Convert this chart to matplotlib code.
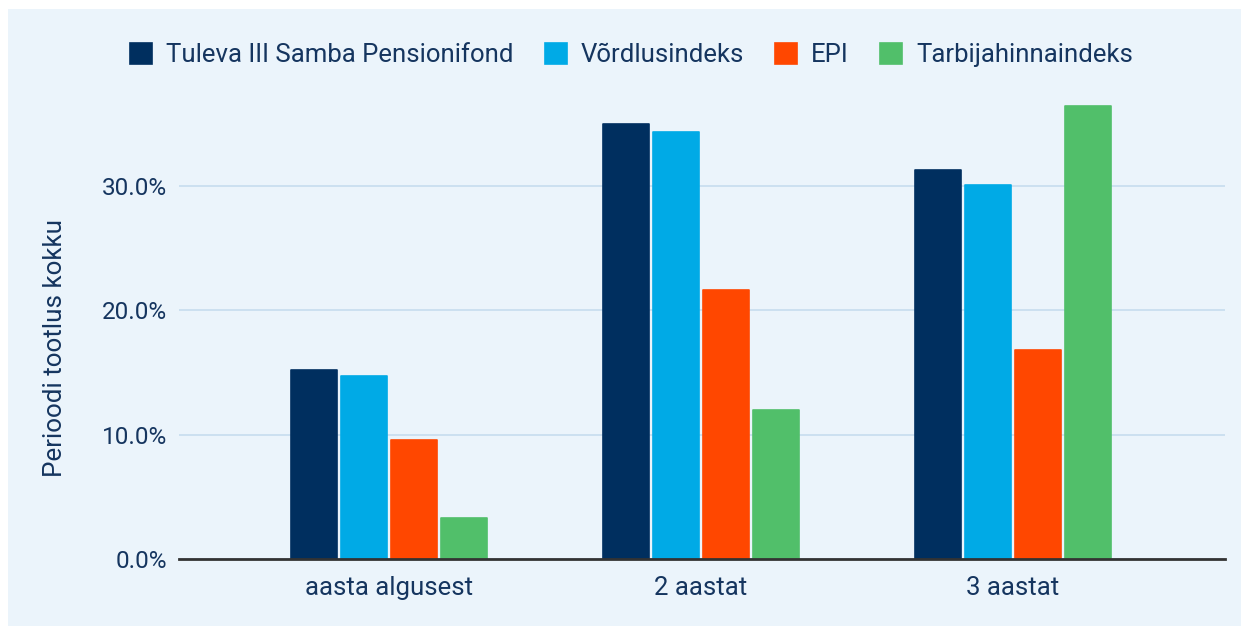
import numpy as np
from matplotlib import pyplot as plt
from matplotlib.patches import Rectangle
from matplotlib.ticker import FuncFormatter

plt.rcParams["font.family"] = ["Roboto", "DejaVu Sans"]

categories = ["aasta algusest", "2 aastat", "3 aastat"]
series_names = ["Tuleva III Samba Pensionifond", "Võrdlusindeks", "EPI", "Tarbijahinnaindeks"]
tuleva = [15.2, 35.0, 31.3]
vordlus = [14.7, 34.3, 30.1]
epi = [9.6, 21.6, 16.8]
thi = [3.3, 12.0, 36.4]
colors = ["#002F5F", "#00AAE6", "#FF4700", "#51BF6A"]

text_color = "#15355F"
bg = "#EBF4FB"

fig = plt.figure(figsize=(12.41, 6.26), dpi=100)
fig.patch.set_facecolor("white")
fig.patches.append(Rectangle((8 / 1241, 0), 1, 1 - 9 / 626, transform=fig.transFigure,
                             facecolor=bg, edgecolor="none", zorder=-10))

ax = fig.add_axes([179 / 1241, 1 - 559 / 626, (1225 - 179) / 1241, (559 - 95) / 626])
ax.set_facecolor(bg)

x = np.arange(len(categories))
width = 46 / 312
step = 50 / 312
for i, (vals, c, name) in enumerate(zip([tuleva, vordlus, epi, thi], colors, series_names)):
    ax.bar(x + (i - 1.5) * step, vals, width, color=c, label=name,
           edgecolor=c, linewidth=1.2, joinstyle="round", zorder=3)

ax.set_xlim(-210 / 312, 2 + 212 / 312)
ax.set_ylim(0, 37.3)
ax.set_yticks([0, 10, 20, 30])
ax.yaxis.set_major_formatter(FuncFormatter(lambda v, p: f"{v:.1f}%"))
ax.set_xticks(x)
ax.set_xticklabels(categories)
ax.grid(axis="y", color="#C6DCEE", linewidth=1.2, zorder=0)
ax.set_axisbelow(True)

for s in ["top", "right", "left"]:
    ax.spines[s].set_visible(False)
ax.spines["bottom"].set_color("#333333")
ax.spines["bottom"].set_linewidth(2)
ax.spines["bottom"].set_zorder(4)
ax.tick_params(length=0, labelcolor=text_color)
ax.tick_params(axis="x", pad=12, labelsize=18.5)
ax.tick_params(axis="y", pad=8.5, labelsize=17.5)

ax.set_ylabel("Perioodi tootlus kokku", fontsize=18.7, color=text_color)
ax.yaxis.set_label_coords(-(179 - 67) / 1046, 211 / 464)

fig.legend(loc="center", bbox_to_anchor=(631.5 / 1241, 1 - 55 / 626), ncol=4, frameon=False,
           fontsize=18.5, labelcolor=text_color, handlelength=0.86, handleheight=0.86,
           handletextpad=0.55, columnspacing=1.2)

fig.savefig("out.png", dpi=100, facecolor=fig.get_facecolor())
